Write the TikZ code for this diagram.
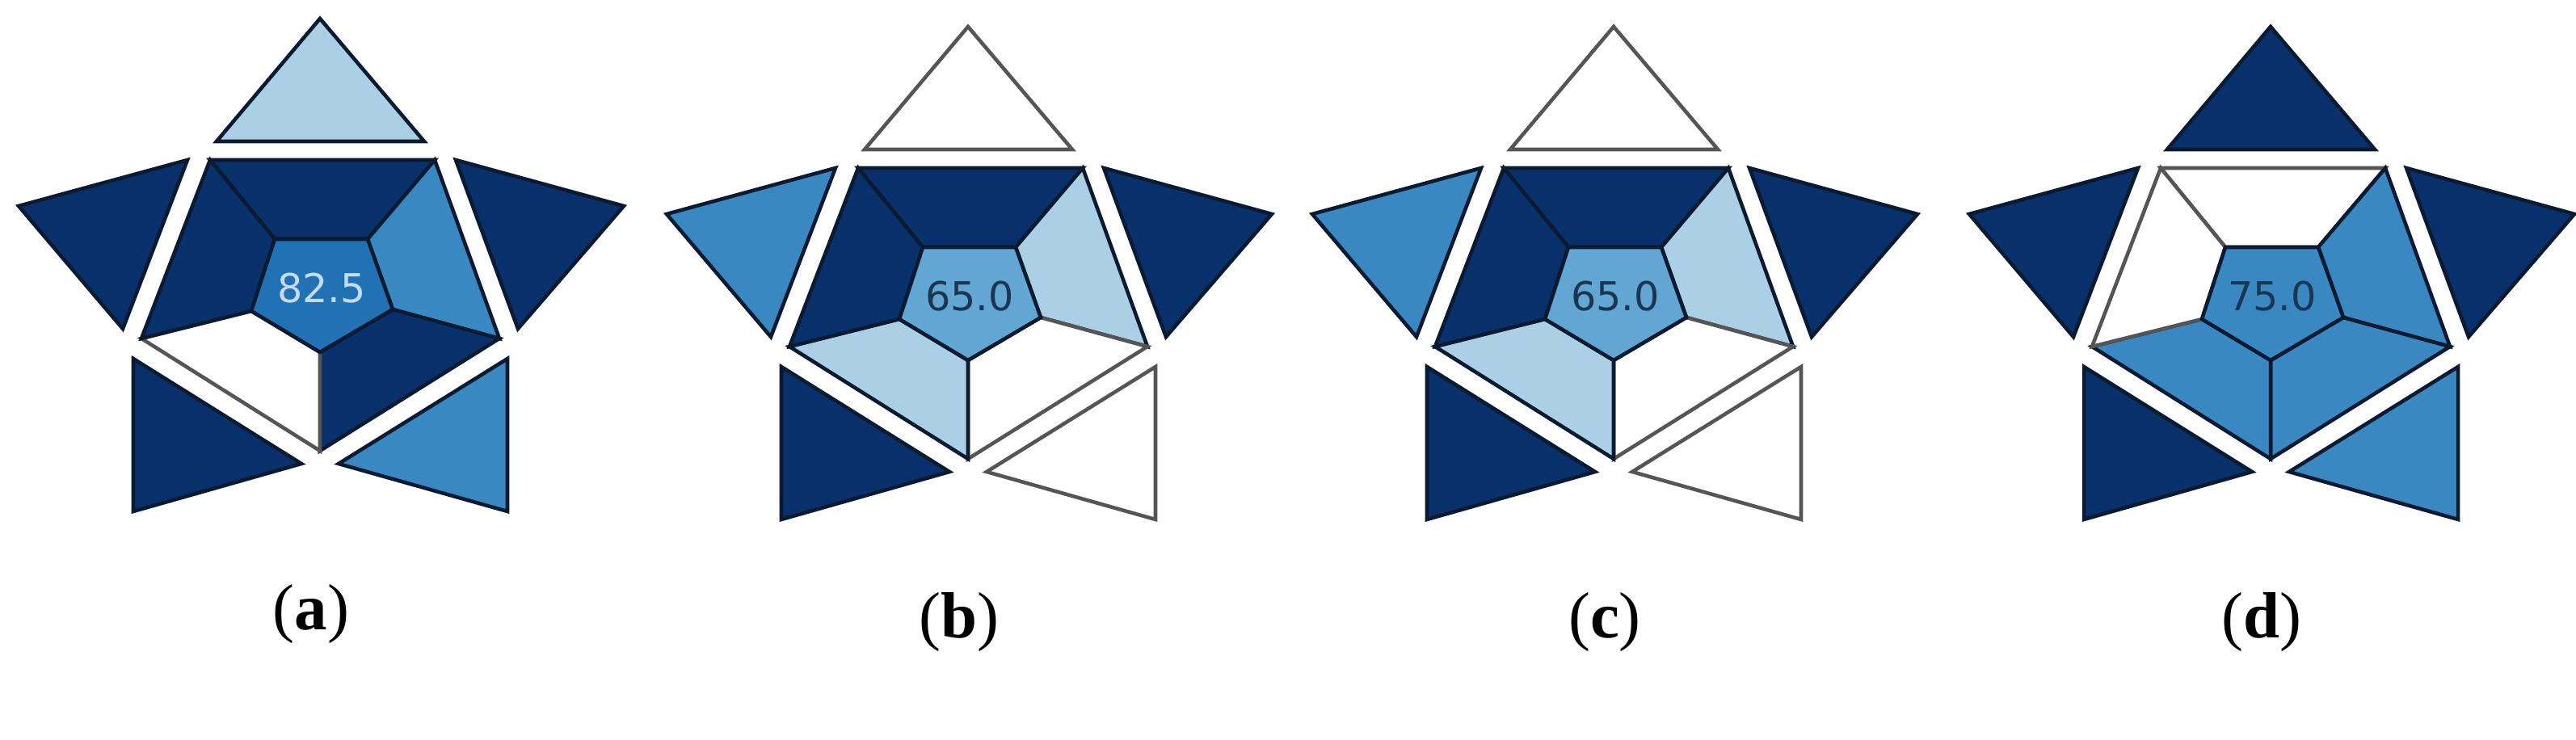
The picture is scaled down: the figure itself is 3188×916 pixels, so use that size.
\documentclass[tikz,border=0pt]{standalone}
\usepackage{fontspec}
\setmainfont{Liberation Serif}
\newfontfamily\numfont{DejaVu Sans}
\definecolor{cD}{HTML}{08306B}
\definecolor{cM}{HTML}{3A88C2}
\definecolor{cL}{HTML}{ABD0E6}
\definecolor{cW}{HTML}{FFFFFF}
\definecolor{cA}{HTML}{2171B5}
\definecolor{cC}{HTML}{62A6D3}
\definecolor{eD}{HTML}{0A1A30}
\definecolor{eW}{HTML}{555555}
\definecolor{tL}{HTML}{C6DBEF}
\definecolor{tD}{HTML}{1C3550}
\tikzset{piece/.style={line width=1.3pt,line join=miter},
  lab/.style={font=\fontsize{23}{26}\selectfont},
  val/.style={font=\numfont\fontsize{14}{16}\selectfont}}
\def\Wname{cW}
\newcommand\pc[2]{\edef\tmpc{#1}\ifx\tmpc\Wname\def\tmpe{eW}\else\def\tmpe{eD}\fi
  \draw[piece,fill=\tmpc,draw=\tmpe] #2 -- cycle;}
\newcommand\drawstar[5]{%
\begin{scope}[shift={(#1,#2)}]
\coordinate (O1) at (260,198); \coordinate (O2) at (538,198);
\coordinate (O3) at (618,419); \coordinate (O4) at (396,558);
\coordinate (O5) at (175,419);
\coordinate (I1) at (340,296); \coordinate (I2) at (455,296);
\coordinate (I3) at (486,383); \coordinate (I4) at (396,436);
\coordinate (I5) at (311,385);
\pc{\tT}{(268,175) -- (396,23) -- (525,175)}
\pc{\tUL}{(23,255) -- (232,198) -- (152,407)}
\pc{\tUR}{(564,198) -- (772,255) -- (641,407)}
\pc{\tLL}{(165,444) -- (373,574) -- (165,633)}
\pc{\tLR}{(628,444) -- (419,574) -- (628,633)}
\pc{\qT}{(O1) -- (O2) -- (I2) -- (I1)}
\pc{\qR}{(O2) -- (O3) -- (I3) -- (I2)}
\pc{\qBR}{(O3) -- (O4) -- (I4) -- (I3)}
\pc{\qBL}{(O4) -- (O5) -- (I5) -- (I4)}
\pc{\qL}{(O5) -- (O1) -- (I1) -- (I5)}
\pc{\qC}{(I1) -- (I2) -- (I3) -- (I4) -- (I5)}
\node[val,text=#5] (v#3) at (398,357) {#4};
\node[lab] (l#3) at (385,760) {(\textbf{#3})};
\end{scope}}
\begin{document}
\begin{tikzpicture}[x=0.01cm,y=-0.01cm]
\useasboundingbox[fill=white] (0,0) rectangle (3188,916);
\def\tT{cL}\def\tUL{cD}\def\tUR{cD}\def\tLL{cD}\def\tLR{cM}
\def\qT{cD}\def\qR{cM}\def\qBR{cD}\def\qBL{cW}\def\qL{cD}\def\qC{cA}
\drawstar{0}{0}{a}{82.5}{tL}
\def\tT{cW}\def\tUL{cM}\def\tUR{cD}\def\tLL{cD}\def\tLR{cW}
\def\qT{cD}\def\qR{cL}\def\qBR{cW}\def\qBL{cL}\def\qL{cD}\def\qC{cC}
\drawstar{802}{10}{b}{65.0}{tD}
\drawstar{1601}{10}{c}{65.0}{tD}
\def\tT{cD}\def\tUL{cD}\def\tUR{cD}\def\tLL{cD}\def\tLR{cM}
\def\qT{cW}\def\qR{cM}\def\qBR{cM}\def\qBL{cM}\def\qL{cW}\def\qC{cM}
\drawstar{2414}{10}{d}{75.0}{tD}
\end{tikzpicture}
\end{document}
